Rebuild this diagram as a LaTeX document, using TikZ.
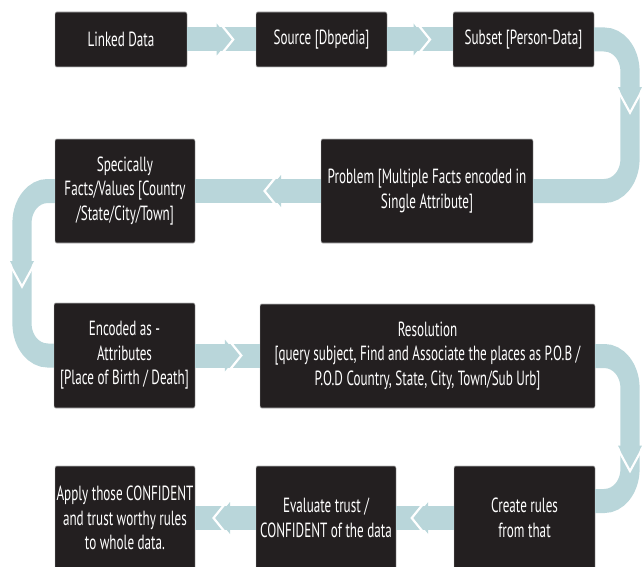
\documentclass[tikz,border=0pt]{standalone}
\usepackage{fontspec}
\setmainfont{PT Sans}[FakeStretch=0.8]
\usetikzlibrary{calc}
\definecolor{boxc}{HTML}{231F20}
\definecolor{bandc}{RGB}{185,214,218}
\tikzset{
  box/.style={draw=gray!55, line width=0.6pt, fill=boxc, rounded corners=2pt,
    text=white, align=center, inner sep=0pt,
    font=\fontsize{20.5}{24.5}\selectfont},
  band/.style={draw=bandc, line width=24pt},
  cut/.style={draw=white, line width=2.5pt},
}
\newcommand\headR[1]{%
  \fill[bandc] ($(#1)+(-13,-16)$) -- (#1) -- ($(#1)+(-13,16)$) -- cycle;
  \draw[cut] ($(#1)+(-11.1,-18)$) -- ($(#1)+(3.5,0)$) -- ($(#1)+(-11.1,18)$);}
\newcommand\headL[1]{%
  \fill[bandc] ($(#1)+(13,-16)$) -- (#1) -- ($(#1)+(13,16)$) -- cycle;
  \draw[cut] ($(#1)+(11.1,-18)$) -- ($(#1)+(-3.5,0)$) -- ($(#1)+(11.1,18)$);}
\newcommand\headD[1]{%
  \fill[bandc] ($(#1)+(-12,-22)$) -- (#1) -- ($(#1)+(12,-22)$) -- cycle;
  \draw[cut] ($(#1)+(-14,-22.2)$) -- ($(#1)+(0,3.5)$) -- ($(#1)+(14,-22.2)$);}
\begin{document}
\begin{tikzpicture}[x=1pt,y=-1pt]
\useasboundingbox (0,0) rectangle (642,567);
\clip (0,0) rectangle (642,567);
\begin{scope}[transform canvas={xscale=0.8}, x=1.25pt]
  % boxes
  \node[box, minimum width=165pt, minimum height=55pt] (LD) at (121,39.5) {Linked Data};
  \node[box, minimum width=163.75pt, minimum height=55pt] (SRC) at (321.5,39.5) {Source [Dbpedia]};
  \node[box, minimum width=176.25pt, minimum height=55pt] (SUB) at (523.5,39.5) {Subset [Person-Data]};
  \node[box, minimum width=265pt, minimum height=104pt] (PROB) at (427,191) {Problem [Multiple Facts encoded in\\{}Single Attribute]};
  \node[box, minimum width=175pt, minimum height=104pt] (SPEC) at (125,191) {Specically\\{}Facts/Values [Country\\{}/State/City/Town]};
  \node[box, minimum width=176.25pt, minimum height=105pt] (ENC) at (124.5,355.5) {Encoded as -\\{}Attributes\\{}[Place of Birth / Death]};
  \node[box, minimum width=418.75pt, minimum height=104pt] (RES) at (427.5,356) {Resolution\\{}[query subject, Find and Associate the places as P.O.B /\\{}P.O.D Country, State, City, Town/Sub Urb]};
  \node[box, minimum width=176.25pt, minimum height=104pt] (CR) at (524.5,518) {Create rules\\{}from that};
  \node[box, minimum width=175pt, minimum height=104pt] (EVAL) at (326,518) {Evaluate trust /\\{}CONFIDENT of the data};
  \node[box, minimum width=175pt, minimum height=104pt] (APPLY) at (125,518) {Apply those CONFIDENT\\{}and trust worthy rules\\{}to whole data.};
  \coordinate (rx) at (630,0);
  \coordinate (lx) at (22,0);
  % C1
  \draw[band] (LD.east) -- (SRC.west);
  \coordinate (h1) at ($(LD.east)!0.62!(SRC.west)$); \headR{h1}
  % C2
  \draw[band] (SRC.east) -- (SUB.west);
  \coordinate (h2) at ($(SRC.east)!0.6!(SUB.west)$); \headR{h2}
  % C3
  \draw[band, rounded corners=32pt] (SUB.east) -- (SUB.east -| rx) -- (PROB.east -| rx) -- (PROB.east);
  \coordinate (h3) at ($(SUB.east -| rx)!0.46!(PROB.east -| rx)$); \headD{h3}
  % C4
  \draw[band] (PROB.west) -- (SPEC.east);
  \coordinate (h4) at ($(PROB.west)!0.42!(SPEC.east)$); \headL{h4}
  % C5
  \draw[band, rounded corners=32pt] (SPEC.west) -- (SPEC.west -| lx) -- (ENC.west -| lx) -- (ENC.west);
  \coordinate (h5) at ($(SPEC.west -| lx)!0.56!(ENC.west -| lx)$); \headD{h5}
  % C6
  \draw[band] (ENC.east) -- (ENC.east -| RES.west);
  \coordinate (h6) at ($(ENC.east)!0.66!(ENC.east -| RES.west)$); \headR{h6}
  % C7
  \coordinate (c7e) at ([yshift=17pt]CR.east);
  \draw[band, rounded corners=32pt] (RES.east) -- (RES.east -| rx) -- (c7e -| rx) -- (c7e);
  \coordinate (h7) at ($(RES.east -| rx)!0.77!(c7e -| rx)$); \headD{h7}
  % C8
  \draw[band] (CR.west) -- (EVAL.east);
  \coordinate (h8) at ($(CR.west)!0.67!(EVAL.east)$); \headL{h8}
  % C9
  \draw[band] (EVAL.west) -- (APPLY.east);
  \coordinate (h9) at ($(EVAL.west)!0.64!(APPLY.east)$); \headL{h9}
\end{scope}
\end{tikzpicture}
\end{document}
